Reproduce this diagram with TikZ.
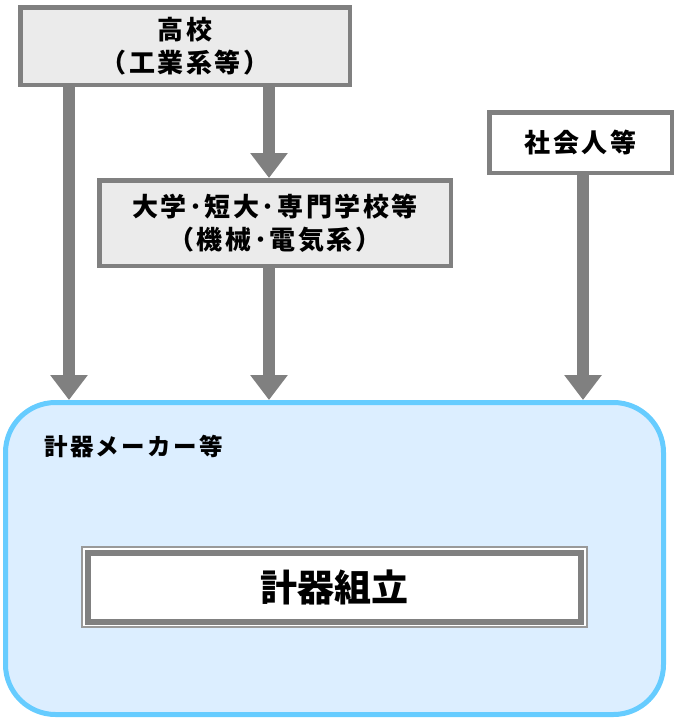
\documentclass[tikz,border=0pt]{standalone}
\usepackage{fontspec}
\newfontfamily\jp{Noto Sans CJK JP}[LetterSpace=10]
\newfontfamily\jpn{Noto Sans CJK JP}
\usetikzlibrary{arrows.meta}
\definecolor{grayline}{HTML}{808080}
\definecolor{boxfill}{HTML}{EBEBEB}
\definecolor{bluebord}{HTML}{66CCFF}
\definecolor{bluefill}{HTML}{DCEEFF}
\definecolor{thingray}{HTML}{999999}
\begin{document}
\begin{tikzpicture}[x=1pt,y=-1pt,
  graybox/.style={draw=grayline,line width=4.5pt,fill=boxfill,inner sep=0pt,align=center,
    font=\jp\bfseries\fontsize{26}{33}\selectfont},
  arr/.style={draw=grayline,line width=12pt,-{Triangle[width=36pt,length=25pt]}}]
\useasboundingbox (0,0) rectangle (677,718);
% big box
\node[draw=bluebord,line width=5pt,fill=bluefill,rounded corners=50pt,
  minimum width=658pt,minimum height=312pt,inner sep=0pt] (big) at (334.5,558.5) {};
\node[anchor=west,inner sep=0pt,font=\jp\bfseries\fontsize{23.5}{26}\selectfont] (maker) at (44,446) {計器メーカー等};
% inner double box
\node[draw=thingray,line width=1.5pt,fill=white,minimum width=505pt,minimum height=80pt,inner sep=0pt] (assyout) at (334.5,587) {};
\node[draw=grayline,line width=6pt,fill=white,minimum width=493pt,minimum height=69pt,inner sep=0pt,
  font=\jpn\bfseries\fontsize{37}{40}\selectfont] (assy) at (334.5,587) {計器組立};
% top boxes
\node[graybox,minimum width=329.5pt,minimum height=77.5pt] (kouko) at (185,46) {高校\\（工業系等）};
\node[graybox,minimum width=351.5pt,minimum height=85.5pt] (univ) at (275,223) {大学･短大･専門学校等\\（機械･電気系）};
\node[graybox,fill=white,minimum width=182.5pt,minimum height=60.5pt] (shakai) at (580.5,142.5) {社会人等};
% arrows
\draw[arr] (kouko.south -| 69,0) -- (big.north -| 69,0);
\draw[arr] (kouko.south -| 269,0) -- (univ.north -| 269,0);
\draw[arr] (univ.south -| 269,0) -- (big.north -| 269,0);
\draw[arr] (shakai.south -| 583,0) -- (big.north -| 583,0);
\end{tikzpicture}
\end{document}
